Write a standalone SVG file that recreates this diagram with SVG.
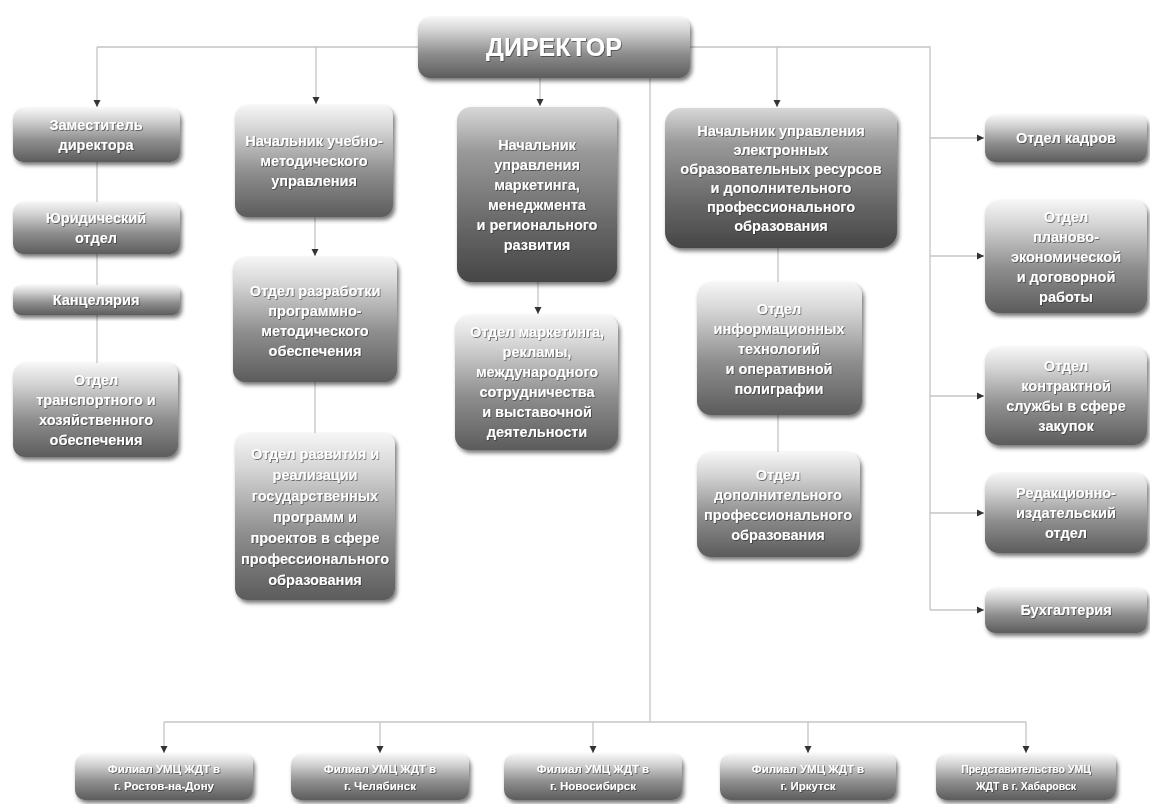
<svg xmlns="http://www.w3.org/2000/svg" width="1150" height="804" viewBox="0 0 1150 804">
<defs>
<linearGradient id="g" x1="0" y1="0" x2="0" y2="1">
<stop offset="0" stop-color="#f6f6f6"/>
<stop offset="0.22" stop-color="#d4d4d4"/>
<stop offset="0.6" stop-color="#8e8e8e"/>
<stop offset="1" stop-color="#5c5c5c"/>
</linearGradient>
<linearGradient id="gd" x1="0" y1="0" x2="0" y2="1">
<stop offset="0" stop-color="#d8d8d8"/>
<stop offset="0.25" stop-color="#9a9a9a"/>
<stop offset="0.65" stop-color="#6a6a6a"/>
<stop offset="1" stop-color="#464646"/>
</linearGradient>
<filter id="sh" x="-10%" y="-10%" width="125%" height="130%">
<feDropShadow dx="2" dy="3" stdDeviation="2" flood-color="#000" flood-opacity="0.55"/>
</filter>
<filter id="ts" x="-5%" y="-20%" width="110%" height="150%">
<feDropShadow dx="0.8" dy="0.8" stdDeviation="0.6" flood-color="#222" flood-opacity="0.7"/>
</filter>
<marker id="ah" markerUnits="userSpaceOnUse" markerWidth="8" markerHeight="8" refX="7" refY="4" orient="auto">
<path d="M0,0.5 L7,4 L0,7.5 z" fill="#333"/>
</marker>
</defs>
<style>
.box{fill:url(#g);filter:url(#sh)}
.dark{fill:url(#gd)}
.t{font-family:"Liberation Sans",Arial,sans-serif;font-size:14.5px;font-weight:bold;fill:#fff;text-anchor:middle;filter:url(#ts)}
.sm{font-size:11.5px}
.xs{font-size:10.5px}
.big{font-size:25px}
.c{stroke:#c4c4c4;stroke-width:1.3;fill:none}
.a{marker-end:url(#ah)}
</style>

<g id="connectors">
<path class="c" d="M97,47 H930 V610"/>
<path class="c a" d="M97,47 V107"/>
<path class="c a" d="M316,47 V104"/>
<path class="c a" d="M540,78 V106"/>
<path class="c a" d="M777,47 V107"/>
<path class="c" d="M650,78 V722"/>
<path class="c" d="M97,162 V363"/>
<path class="c a" d="M315,217 V256"/>
<path class="c" d="M315,382 V433"/>
<path class="c a" d="M538,282 V314"/>
<path class="c" d="M778,248 V452"/>
<path class="c a" d="M930,138 H984"/>
<path class="c a" d="M930,256 H984"/>
<path class="c a" d="M930,396 H984"/>
<path class="c a" d="M930,513 H984"/>
<path class="c a" d="M930,610 H984"/>
<path class="c" d="M164,722 H1026"/>
<path class="c a" d="M164,722 V753"/>
<path class="c a" d="M380,722 V753"/>
<path class="c a" d="M593,722 V753"/>
<path class="c a" d="M808,722 V753"/>
<path class="c a" d="M1026,722 V753"/>
</g>

<g id="director">
<rect class="box" x="418" y="17" width="272" height="61" rx="12"/>
<text class="t big" x="554" y="56">ДИРЕКТОР</text>
</g>

<g id="deputy">
<rect class="box" x="13" y="108" width="167" height="54" rx="10"/>
<text class="t" x="96" y="130">Заместитель</text>
<text class="t" x="96" y="150">директора</text>
</g>
<g id="legal">
<rect class="box" x="13" y="202" width="167" height="52" rx="10"/>
<text class="t" x="96" y="223">Юридический</text>
<text class="t" x="96" y="243">отдел</text>
</g>
<g id="office">
<rect class="box" x="13" y="285" width="167" height="30" rx="8"/>
<text class="t" x="96" y="305">Канцелярия</text>
</g>
<g id="transport">
<rect class="box" x="13" y="363" width="165" height="94" rx="12"/>
<text class="t" x="96" y="385">Отдел</text>
<text class="t" x="96" y="405">транспортного и</text>
<text class="t" x="96" y="425">хозяйственного</text>
<text class="t" x="96" y="445">обеспечения</text>
</g>

<g id="edu-head">
<rect class="box" x="235" y="105" width="158" height="112" rx="12"/>
<text class="t" x="314" y="146">Начальник учебно-</text>
<text class="t" x="314" y="166">методического</text>
<text class="t" x="314" y="186">управления</text>
</g>
<g id="edu-dev">
<rect class="box" x="233" y="257" width="164" height="125" rx="12"/>
<text class="t" x="315" y="296">Отдел разработки</text>
<text class="t" x="315" y="316">программно-</text>
<text class="t" x="315" y="336">методического</text>
<text class="t" x="315" y="356">обеспечения</text>
</g>
<g id="edu-prog">
<rect class="box" x="235" y="433" width="160" height="167" rx="12"/>
<text class="t" x="315" y="459">Отдел развития и</text>
<text class="t" x="315" y="480">реализации</text>
<text class="t" x="315" y="501">государственных</text>
<text class="t" x="315" y="522">программ и</text>
<text class="t" x="315" y="543">проектов в сфере</text>
<text class="t" x="315" y="564">профессионального</text>
<text class="t" x="315" y="585">образования</text>
</g>

<g id="mkt-head">
<rect class="box dark" x="457" y="107" width="160" height="175" rx="14"/>
<text class="t" x="537" y="150">Начальник</text>
<text class="t" x="537" y="170">управления</text>
<text class="t" x="537" y="190">маркетинга,</text>
<text class="t" x="537" y="210">менеджмента</text>
<text class="t" x="537" y="230">и регионального</text>
<text class="t" x="537" y="250">развития</text>
</g>
<g id="mkt-dept">
<rect class="box" x="455" y="315" width="163" height="135" rx="14"/>
<text class="t" x="537" y="337">Отдел маркетинга,</text>
<text class="t" x="537" y="357">рекламы,</text>
<text class="t" x="537" y="377">международного</text>
<text class="t" x="537" y="397">сотрудничества</text>
<text class="t" x="537" y="417">и выставочной</text>
<text class="t" x="537" y="437">деятельности</text>
</g>

<g id="el-head">
<rect class="box dark" x="665" y="108" width="232" height="140" rx="16"/>
<text class="t" x="781" y="136">Начальник управления</text>
<text class="t" x="781" y="155">электронных</text>
<text class="t" x="781" y="174">образовательных ресурсов</text>
<text class="t" x="781" y="193">и дополнительного</text>
<text class="t" x="781" y="212">профессионального</text>
<text class="t" x="781" y="231">образования</text>
</g>
<g id="it">
<rect class="box" x="697" y="282" width="165" height="133" rx="14"/>
<text class="t" x="779" y="314">Отдел</text>
<text class="t" x="779" y="334">информационных</text>
<text class="t" x="779" y="354">технологий</text>
<text class="t" x="779" y="374">и оперативной</text>
<text class="t" x="779" y="394">полиграфии</text>
</g>
<g id="dpo">
<rect class="box" x="697" y="452" width="163" height="105" rx="14"/>
<text class="t" x="778" y="480">Отдел</text>
<text class="t" x="778" y="500">дополнительного</text>
<text class="t" x="778" y="520">профессионального</text>
<text class="t" x="778" y="540">образования</text>
</g>

<g id="hr">
<rect class="box" x="985" y="115" width="162" height="47" rx="10"/>
<text class="t" x="1066" y="143">Отдел кадров</text>
</g>
<g id="plan">
<rect class="box" x="985" y="200" width="162" height="113" rx="14"/>
<text class="t" x="1066" y="222">Отдел</text>
<text class="t" x="1066" y="242">планово-</text>
<text class="t" x="1066" y="262">экономической</text>
<text class="t" x="1066" y="282">и договорной</text>
<text class="t" x="1066" y="302">работы</text>
</g>
<g id="contract">
<rect class="box" x="985" y="347" width="162" height="98" rx="14"/>
<text class="t" x="1066" y="371">Отдел</text>
<text class="t" x="1066" y="391">контрактной</text>
<text class="t" x="1066" y="411">службы в сфере</text>
<text class="t" x="1066" y="431">закупок</text>
</g>
<g id="publish">
<rect class="box" x="985" y="473" width="162" height="80" rx="14"/>
<text class="t" x="1066" y="498">Редакционно-</text>
<text class="t" x="1066" y="518">издательский</text>
<text class="t" x="1066" y="538">отдел</text>
</g>
<g id="account">
<rect class="box" x="985" y="588" width="162" height="45" rx="10"/>
<text class="t" x="1066" y="615">Бухгалтерия</text>
</g>

<g id="rostov">
<rect class="box" x="75" y="754" width="178" height="46" rx="10"/>
<text class="t sm" x="164" y="773">Филиал УМЦ ЖДТ в</text>
<text class="t sm" x="164" y="790">г. Ростов-на-Дону</text>
</g>
<g id="chel">
<rect class="box" x="291" y="754" width="178" height="46" rx="10"/>
<text class="t sm" x="380" y="773">Филиал УМЦ ЖДТ в</text>
<text class="t sm" x="380" y="790">г. Челябинск</text>
</g>
<g id="novosib">
<rect class="box" x="504" y="754" width="178" height="46" rx="10"/>
<text class="t sm" x="593" y="773">Филиал УМЦ ЖДТ в</text>
<text class="t sm" x="593" y="790">г. Новосибирск</text>
</g>
<g id="irk">
<rect class="box" x="720" y="754" width="176" height="46" rx="10"/>
<text class="t sm" x="808" y="773">Филиал УМЦ ЖДТ в</text>
<text class="t sm" x="808" y="790">г. Иркутск</text>
</g>
<g id="khab">
<rect class="box" x="936" y="754" width="180" height="46" rx="10"/>
<text class="t xs" x="1026" y="773">Представительство УМЦ</text>
<text class="t xs" x="1026" y="790">ЖДТ в г. Хабаровск</text>
</g>
</svg>
